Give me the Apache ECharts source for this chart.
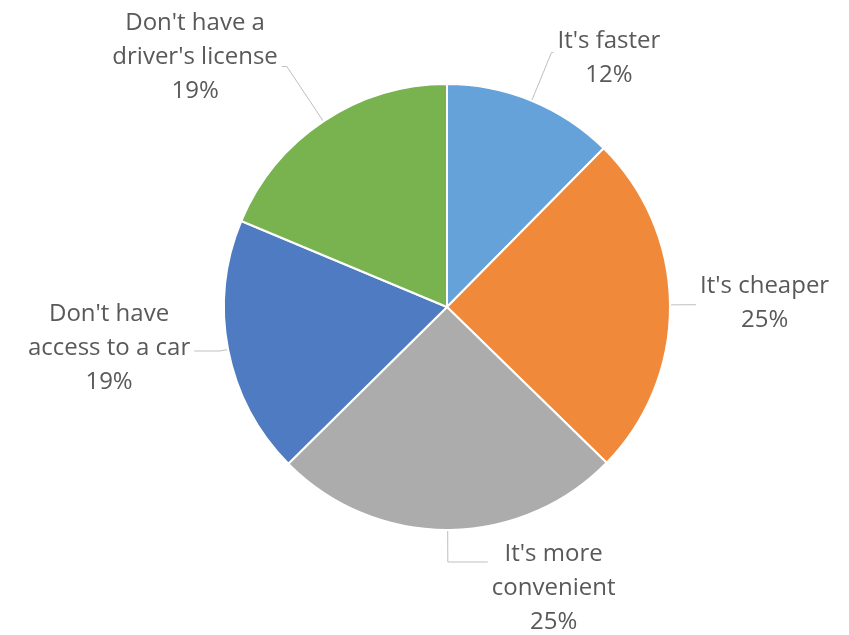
<!DOCTYPE html>
<html>
<head>
<meta charset="utf-8">
<script src="https://cdn.jsdelivr.net/npm/echarts@6/dist/echarts.min.js"></script>
<style>
  html, body { margin: 0; padding: 0; background: #fff; }
  #chart { width: 849px; height: 635px; }
</style>
</head>
<body>
<div id="chart"></div>
<script>
// slices clockwise from 12 o'clock
const names = ["It's faster", "It's cheaper", "It's more convenient", "Don't have access to a car", "Don't have a driver's license"];
const labelLines = [["It's faster"], ["It's cheaper"], ["It's more", 'convenient'], ["Don't have", 'access to a car'], ["Don't have a", "driver's license"]];
const values = [12.4, 24.9, 25.3, 18.7, 18.7];
const pctLabels = ['12%', '25%', '25%', '19%', '19%'];
const colors = ['#64a2d9', '#f08a3a', '#abacab', '#4e7bc1', '#79b350'];

// leader line lengths + vertical nudge for each label
const lead = [
  { length: 52, length2: 2, padding: [12, 0, 0, 0] },
  { length: 18, length2: 8, padding: [0, 0, 4, 0] },
  { length: 32, length2: 40, padding: [52, 0, 0, 0] },
  { length: 8, length2: 26, padding: [0, 0, 6, 0] },
  { length: 66, length2: 5, padding: [0, 0, 18, 0] },
];

const chart = echarts.init(document.getElementById('chart'), null, { renderer: 'canvas' });

const data = names.map((n, i) => ({
  name: n,
  value: values[i],
  itemStyle: { color: colors[i] },
  label: {
    formatter: labelLines[i].concat(pctLabels[i]).map(s => '{c|' + s + '}').join('\n'),
    padding: lead[i].padding,
  },
  labelLine: { length: lead[i].length, length2: lead[i].length2 },
}));

chart.setOption({
  animation: false,
  backgroundColor: '#fff',
  series: [{
    type: 'pie',
    center: [447, 307],
    radius: 223,
    startAngle: 90,
    clockwise: true,
    avoidLabelOverlap: false,
    itemStyle: { borderColor: '#fff', borderWidth: 2 },
    label: {
      show: true,
      position: 'outside',
      distanceToLabelLine: 4,
      rich: {
        c: { align: 'center', fontFamily: 'Open Sans', fontSize: 24, lineHeight: 34, color: '#595959' },
      },
    },
    labelLine: { show: true, smooth: false, lineStyle: { color: '#bfbfbf', width: 1 } },
    emphasis: { disabled: true },
    data,
  }],
});
</script>
</body>
</html>
